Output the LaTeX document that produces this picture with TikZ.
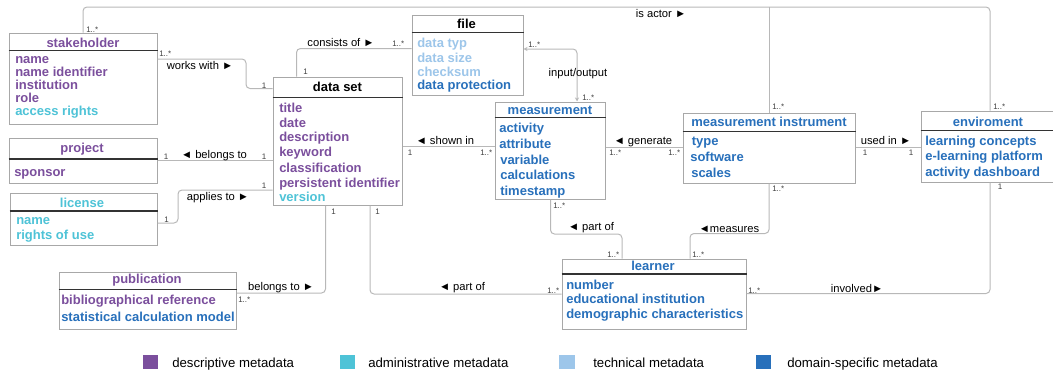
\documentclass[tikz,border=0pt]{standalone}
\usepackage{fontspec}
\setmainfont{Liberation Sans}
\usetikzlibrary{fit,arrows.meta}
\definecolor{cdesc}{HTML}{7B4F9D}
\definecolor{cadm}{HTML}{4EC3D7}
\definecolor{ctech}{HTML}{9DC6EA}
\definecolor{cdom}{HTML}{2870BB}
\definecolor{cbox}{HTML}{A8A8A8}
\definecolor{cline}{HTML}{B8B8B8}
\tikzset{
  umlbox/.style={draw=cbox, line width=0.75pt, fill=white, inner sep=0pt, fit={#1}},
  hdr/.style={draw=black!80, line width=0.95pt},
  ttl/.style={font=\fontsize{9.75}{11}\selectfont\bfseries, inner sep=0pt, anchor=base},
  att/.style={font=\fontsize{9.75}{11}\selectfont\bfseries, inner sep=0pt, anchor=base west},
  lbl/.style={font=\fontsize{8.4}{10}\selectfont, inner sep=0pt, anchor=base},
  mult/.style={font=\fontsize{6}{7}\selectfont, inner sep=0pt, anchor=base west, text=black!75},
  conn/.style={draw=cline, line width=0.75pt, rounded corners=3pt},
  legsq/.style={inner sep=0pt, fit={#1}},
  legtxt/.style={font=\fontsize{9.9}{12}\selectfont, inner sep=0pt, anchor=base west}
}
\begin{document}
\begin{tikzpicture}[x=0.75pt,y=-0.75pt]
\useasboundingbox (0,0) rectangle (1053,371);

% boxes as named nodes
\node[umlbox={(9,33) (157,124)}] (stake) {};
\node[umlbox={(273,77) (402,205)}] (dset) {};
\node[umlbox={(412,15) (523,95)}] (file) {};
\node[umlbox={(495,102) (605,199)}] (meas) {};
\node[umlbox={(683,113) (855,183)}] (instr) {};
\node[umlbox={(921,111) (1055,182)}] (env) {};
\node[umlbox={(9,138) (157,183)}] (proj) {};
\node[umlbox={(10,193) (157,245)}] (lic) {};
\node[umlbox={(59,272) (236,329)}] (pub) {};
\node[umlbox={(562,259) (746,329)}] (learn) {};

% is actor
\draw[conn] (stake.north -| 83,0) -- (83,7) -- (990,7) -- (env.north -| 990,0);
\draw[conn] (769,7) -- (instr.north -| 769,0);
% works with
\draw[conn] (stake.east |- 0,59) -- (246,59) -- (246,88.5) -- (dset.west |- 0,88.5);
% consists of
\draw[conn] (dset.north -| 296.5,0) -- (296.5,48.5) -- (file.west |- 0,48.5);
% input/output
\draw[conn, {Stealth[length=3pt,width=3pt]}-{Stealth[length=3pt,width=3pt]}] (file.east |- 0,49) -- (577,49) -- (meas.north -| 577,0);
% shown in
\draw[conn] (dset.east |- 0,146) -- (meas.west |- 0,146);
% generate
\draw[conn] (meas.east |- 0,147) -- (instr.west |- 0,147);
% used in
\draw[conn] (instr.east |- 0,147) -- (env.west |- 0,147);
% part of (measurement - learner)
\draw[conn] (meas.south -| 550.5,0) -- (550.5,234) -- (622,234) -- (learn.north -| 622,0);
% measures
\draw[conn] (instr.south -| 769,0) -- (769,233.5) -- (690,233.5) -- (learn.north -| 690,0);
% involved
\draw[conn] (env.south -| 990,0) -- (990,293.5) -- (learn.east |- 0,293.5);
% part of (data set - learner)
\draw[conn] (dset.south -| 370,0) -- (370,294) -- (learn.west |- 0,294);
% belongs to (publication)
\draw[conn] (dset.south -| 325.5,0) -- (325.5,293) -- (pub.east |- 0,293);
% belongs to (project)
\draw[conn] (proj.east |- 0,160.5) -- (dset.west |- 0,160.5);
% applies to
\draw[conn] (lic.east |- 0,223) -- (178,223) -- (178,190) -- (dset.west |- 0,190);

% header lines
\draw[hdr] (stake.west |- 0,50.5) -- (stake.east |- 0,50.5);
\draw[hdr] (dset.west |- 0,97.3) -- (dset.east |- 0,97.3);
\draw[hdr] (file.west |- 0,32.3) -- (file.east |- 0,32.3);
\draw[hdr] (meas.west |- 0,117.3) -- (meas.east |- 0,117.3);
\draw[hdr] (instr.west |- 0,131.7) -- (instr.east |- 0,131.7);
\draw[hdr] (env.west |- 0,130.7) -- (env.east |- 0,130.7);
\draw[hdr] (proj.west |- 0,159) -- (proj.east |- 0,159);
\draw[hdr] (lic.west |- 0,211) -- (lic.east |- 0,211);
\draw[hdr] (pub.west |- 0,289.3) -- (pub.east |- 0,289.3);
\draw[hdr] (learn.west |- 0,274) -- (learn.east |- 0,274);

% titles
\node[ttl, text=cdesc] (tStake) at (83,47.3) {stakeholder};
\node[ttl, text=black] (tDset) at (337.5,91.8) {data set};
\node[ttl, text=black] (tFile) at (466.5,28.8) {file};
\node[ttl, text=cdom] (tMeas) at (550,114) {measurement};
\node[ttl, text=cdom] (tInstr) at (769,126.4) {measurement instrument};
\node[ttl, text=cdom] (tEnv) at (988,126) {enviroment};
\node[ttl, text=cdesc] (tProj) at (82,152) {project};
\node[ttl, text=cadm] (tLic) at (82,207) {license};
\node[ttl, text=cdesc] (tPub) at (147,283.5) {publication};
\node[ttl, text=cdom] (tLearn) at (653,270.4) {learner};

% attributes: stakeholder
\node[att, text=cdesc] (s1) at (15,63.5) {name};
\node[att, text=cdesc] (s2) at (15,76.5) {name identifier};
\node[att, text=cdesc] (s3) at (15,89.5) {institution};
\node[att, text=cdesc] (s4) at (15,102.5) {role};
\node[att, text=cadm] (s5) at (15,115) {access rights};
% data set
\node[att, text=cdesc] (d1) at (279,112.5) {title};
\node[att, text=cdesc] (d2) at (279,127) {date};
\node[att, text=cdesc] (d3) at (279,141.8) {description};
\node[att, text=cdesc] (d4) at (279,156.8) {keyword};
\node[att, text=cdesc] (d5) at (279,172.2) {classification};
\node[att, text=cdesc] (d6) at (279,187.5) {persistent identifier};
\node[att, text=cadm] (d7) at (279,201.8) {version};
% file
\node[att, text=ctech] (f1) at (417,47.4) {data typ};
\node[att, text=ctech] (f2) at (417,62) {data size};
\node[att, text=ctech] (f3) at (417,76) {checksum};
\node[att, text=cdom] (f4) at (417,89.7) {data protection};
% measurement
\node[att, text=cdom] (m1) at (499,132.5) {activity};
\node[att, text=cdom] (m2) at (499,148.5) {attribute};
\node[att, text=cdom] (m3) at (500,164.5) {variable};
\node[att, text=cdom] (m4) at (500,179.5) {calculations};
\node[att, text=cdom] (m5) at (500,195.5) {timestamp};
% measurement instrument
\node[att, text=cdom] (i1) at (691.5,145.5) {type};
\node[att, text=cdom] (i2) at (690,161.5) {software};
\node[att, text=cdom] (i3) at (691,177.3) {scales};
% enviroment
\node[att, text=cdom] (e1) at (925,145.3) {learning concepts};
\node[att, text=cdom] (e2) at (925,160.8) {e-learning platform};
\node[att, text=cdom] (e3) at (925,176.5) {activity dashboard};
% project
\node[att, text=cdesc] (p1) at (14,176.3) {sponsor};
% license
\node[att, text=cadm] (l1) at (16,224.6) {name};
\node[att, text=cadm] (l2) at (16,239.5) {rights of use};
% publication
\node[att, text=cdesc] (u1) at (61,304.5) {bibliographical reference};
\node[att, text=cdom] (u2) at (61,321.5) {statistical calculation model};
% learner
\node[att, text=cdom] (n1) at (566,289.5) {number};
\node[att, text=cdom] (n2) at (566,303.5) {educational institution};
\node[att, text=cdom] (n3) at (566,318) {demographic characteristics};

% connector labels
\node[lbl] (lActor) at (661,17.3) {is actor ►};
\node[lbl] (lWorks) at (200,69) {works with ►};
\node[lbl] (lCons) at (341,46.3) {consists of ►};
\node[lbl] (lIO) at (578,76) {input/output};
\node[lbl] (lShown) at (445,144.7) {◄ shown in};
\node[lbl] (lGen) at (643,144.7) {◄ generate};
\node[lbl] (lUsed) at (886,144.3) {used in ►};
\node[lbl] (lPart1) at (591,230) {◄ part of};
\node[lbl] (lMeas) at (729,232) {◄measures};
\node[lbl] (lInv) at (857,292.3) {involved►};
\node[lbl] (lPart2) at (462,290.7) {◄ part of};
\node[lbl] (lBel1) at (281,290.7) {belongs to ►};
\node[lbl] (lBel2) at (214,158.3) {◄ belongs to};
\node[lbl] (lApp) at (218,200.7) {applies to ►};

% multiplicities
\node[mult] (k1) at (86,32.3) {1..*};
\node[mult] (k2) at (159,56) {1..*};
\node[mult] (k3) at (261.5,88.5) {1};
\node[mult] (k4) at (303,74.5) {1};
\node[mult] (k5) at (392,46) {1..*};
\node[mult] (k6) at (528,47) {1..*};
\node[mult] (k7) at (582,100) {1..*};
\node[mult] (k8) at (407.5,155) {1};
\node[mult] (k9) at (480,155) {1..*};
\node[mult] (k10) at (609,155.5) {1..*};
\node[mult] (k11) at (668,155) {1..*};
\node[mult] (k12) at (862.5,155) {1};
\node[mult] (k13) at (908.5,155) {1};
\node[mult] (k14) at (772,109.5) {1..*};
\node[mult] (k15) at (993,109.5) {1..*};
\node[mult] (k16) at (772,191) {1..*};
\node[mult] (k17) at (997.5,189) {1};
\node[mult] (k18) at (692,257) {1..*};
\node[mult] (k19) at (607,257) {1..*};
\node[mult] (k20) at (553,208) {1..*};
\node[mult] (k21) at (547,293) {1..*};
\node[mult] (k22) at (748,293) {1..*};
\node[mult] (k23) at (163.5,159) {1};
\node[mult] (k24) at (261.5,159) {1};
\node[mult] (k25) at (164,222) {1};
\node[mult] (k26) at (261.5,188) {1};
\node[mult] (k27) at (331,214) {1};
\node[mult] (k28) at (375,214) {1};
\node[mult] (k29) at (238,302) {1..*};

% legend
\node[legsq={(143,355) (158,369)}, fill=cdesc] (q1) {};
\node[legsq={(340,355) (355,369)}, fill=cadm] (q2) {};
\node[legsq={(559,355) (575,369)}, fill=ctech] (q3) {};
\node[legsq={(756,355) (771,369)}, fill=cdom] (q4) {};
\node[legtxt] (g1) at (172,367.3) {descriptive metadata};
\node[legtxt] (g2) at (368,367.3) {administrative metadata};
\node[legtxt] (g3) at (593,367.3) {technical metadata};
\node[legtxt] (g4) at (787,367.3) {domain-specific metadata};
\end{tikzpicture}
\end{document}
